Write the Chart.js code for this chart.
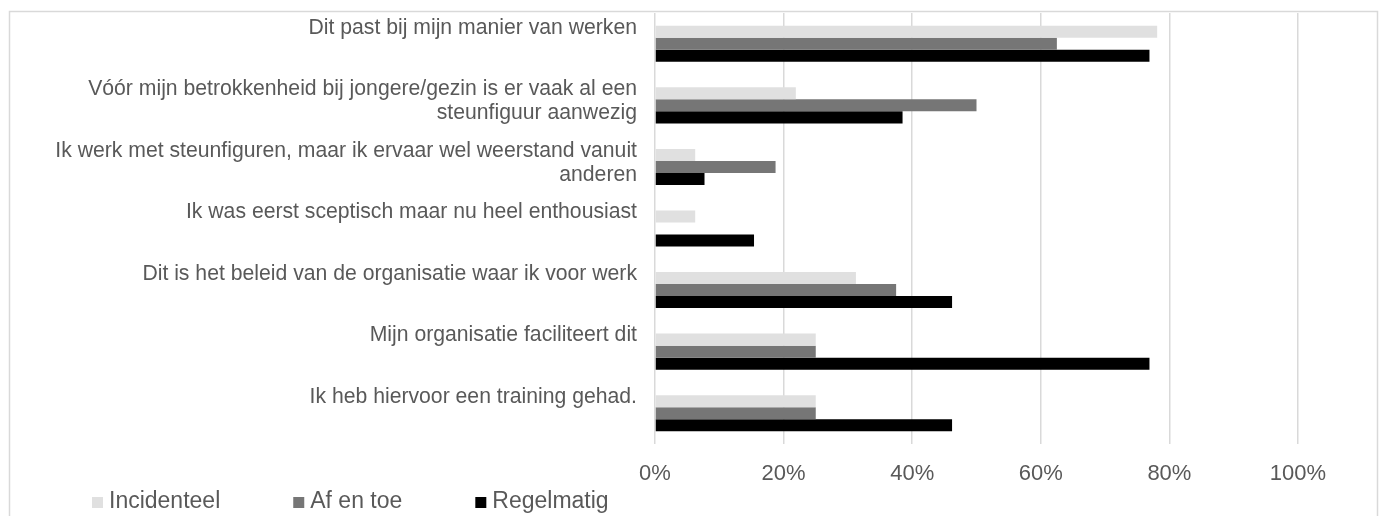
<!DOCTYPE html>
<html>
<head>
<meta charset="utf-8">
<script src="https://cdn.jsdelivr.net/npm/chart.js@4.4.0/dist/chart.umd.min.js"></script>
<style>
  html, body { margin: 0; padding: 0; background: #fff; }
  #wrap { width: 1381px; height: 516px; }
</style>
</head>
<body>
<div id="wrap"><canvas id="chart" width="1381" height="516"></canvas></div>
<script>
// Categories (each label split in two lines, like the original)
const categories = [
    ['Dit past bij mijn manier van werken', ''],
    ['Vóór mijn betrokkenheid bij jongere/gezin is er vaak al een', 'steunfiguur aanwezig'],
    ['Ik werk met steunfiguren, maar ik ervaar wel weerstand vanuit', 'anderen'],
    ['Ik was eerst sceptisch maar nu heel enthousiast', ''],
    ['Dit is het beleid van de organisatie waar ik voor werk', ''],
    ['Mijn organisatie faciliteert dit', ''],
    ['Ik heb hiervoor een training gehad.', '']
];

// Series names
const seriesNames = ['Incidenteel', 'Af en toe', 'Regelmatig'];

// Values in %
const incidenteel = [78.1, 21.9, 6.25, 6.25, 31.25, 25, 25];
const afEnToe = [62.5, 50, 18.75, 0, 37.5, 25, 25];
const regelmatig = [76.9, 38.5, 7.7, 15.4, 46.2, 76.9, 46.2];

// X axis ticks
const xTicks = [0, 20, 40, 60, 80, 100];

const seriesColors = ['#e0e0e0', '#767676', '#000000'];
const textColor = '#595959';
const fontFamily = '"Liberation Sans", Arial, sans-serif';

// outer frame like the Excel chart area
const framePlugin = {
    id: 'frame',
    beforeDraw(chart) {
        const ctx = chart.ctx;
        ctx.save();
        ctx.strokeStyle = '#d9d9d9';
        ctx.lineWidth = 1.5;
        ctx.strokeRect(9.5, 11.5, 1368, 520);
        ctx.restore();
    }
};

// legend drawn at the bottom left, items spaced like the original
const legendPlugin = {
    id: 'bottomLegend',
    afterDraw(chart) {
        const ctx = chart.ctx;
        ctx.save();
        ctx.font = '23px ' + fontFamily;
        ctx.textBaseline = 'middle';
        ctx.textAlign = 'left';
        let x = 92;
        const y = 502;
        chart.data.datasets.forEach(ds => {
            ctx.fillStyle = ds.backgroundColor;
            ctx.fillRect(x, y - 5, 11, 11);
            ctx.fillStyle = textColor;
            ctx.fillText(ds.label, x + 17, y);
            x += 17 + ctx.measureText(ds.label).width + 73;
        });
        ctx.restore();
    }
};

const data = {
    labels: categories,
    datasets: [
        { label: seriesNames[0], data: incidenteel, backgroundColor: seriesColors[0] },
        { label: seriesNames[1], data: afEnToe, backgroundColor: seriesColors[1] },
        { label: seriesNames[2], data: regelmatig, backgroundColor: seriesColors[2] }
    ]
};

const config = {
    type: 'bar',
    data: data,
    options: {
        indexAxis: 'y',
        responsive: false,
        animation: false,
        barPercentage: 1,
        categoryPercentage: 0.586,
        layout: {
            padding: { top: 13, right: 83, bottom: 0, left: 0 }
        },
        plugins: {
            legend: { display: false },
            tooltip: { enabled: false },
            title: { display: false }
        },
        scales: {
            x: {
                min: 0,
                max: 100,
                afterBuildTicks: scale => {
                    scale.ticks = xTicks.map(v => ({ value: v }));
                },
                afterFit: scale => {
                    scale.height = 72;
                    scale.paddingLeft = 0;
                    scale.paddingRight = 0;
                },
                grid: {
                    color: '#d9d9d9',
                    lineWidth: 1.5,
                    drawTicks: false
                },
                border: { display: false },
                ticks: {
                    padding: 17,
                    color: textColor,
                    font: { family: fontFamily, size: 22 },
                    callback: v => v + '%'
                }
            },
            y: {
                afterFit: scale => {
                    scale.width = 655;
                    scale.paddingTop = 0;
                    scale.paddingBottom = 0;
                },
                grid: { display: false, drawTicks: false },
                border: { display: false },
                ticks: {
                    padding: 18,
                    labelOffset: -4,
                    color: textColor,
                    font: { family: fontFamily, size: 21.2, lineHeight: '24px' }
                }
            }
        }
    },
    plugins: [framePlugin, legendPlugin]
};

new Chart(document.getElementById('chart'), config);
</script>
</body>
</html>
